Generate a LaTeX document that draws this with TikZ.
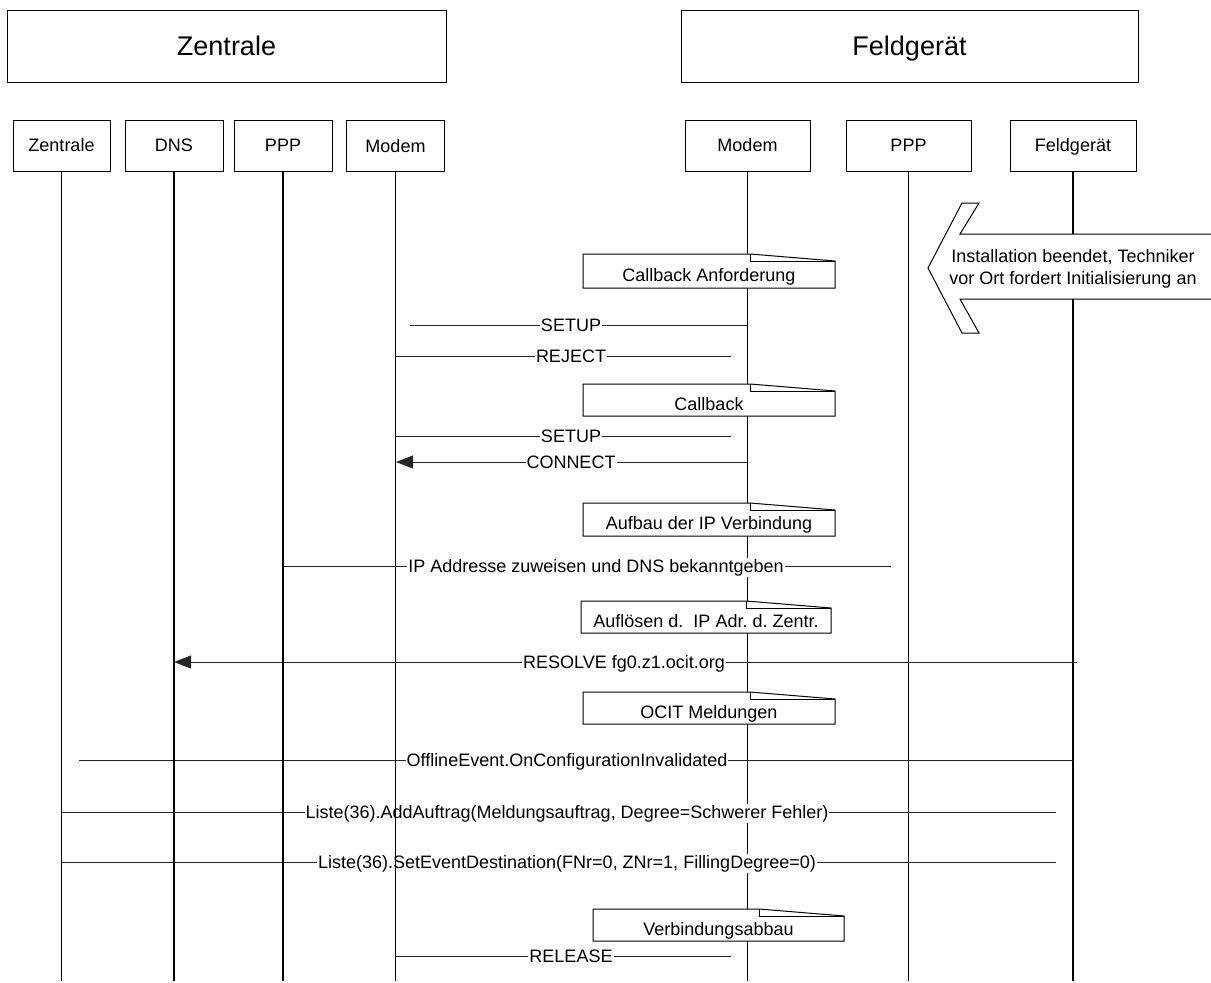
\documentclass[tikz,border=0pt]{standalone}
\usepackage{fontspec}
\setmainfont{Liberation Sans}
\usetikzlibrary{arrows.meta}
\frenchspacing
\tikzset{
  bigbox/.style={draw, line width=1pt, minimum height=72pt, inner sep=0pt, text height=19.3pt, text depth=0pt, font=\fontsize{27}{32}\selectfont},
  objbox/.style={draw, line width=1pt, minimum height=51pt, inner sep=0pt, text height=12.9pt, text depth=0pt, font=\fontsize{18}{22}\selectfont},
  life/.style={line width=1.5pt},
  msg/.style={line width=0.9pt, black!85},
  tip/.style={-{Triangle[length=17pt,width=13pt]}},
  lbl/.style={fill=white, inner sep=1pt, anchor=base, font=\fontsize{18}{22}\selectfont},
  notebody/.style={draw, line width=1pt, fill=white},
  notetext/.style={inner sep=0pt, font=\fontsize{18}{22}\selectfont}
}
\newcommand\mynote[6]{%
  \filldraw[notebody] (#2,#3) -- ({#4-85},#3) -- (#4,{#3+7}) -- (#4,#5) -- (#2,#5) -- cycle;
  \draw[line width=1pt] ({#4-85},#3) -- ({#4-85},{#3+7}) -- (#4,{#3+7});
  \node[notetext, anchor=base] (#1) at ({(#2+#4)/2},{(#3+#5)/2+10}) {#6};
}
\begin{document}
\begin{tikzpicture}[x=1pt,y=-1pt]
\useasboundingbox (0,0) rectangle (1211,983);
\coordinate (bottom) at (0,981);

% header boxes
\node[bigbox, minimum width=439pt] (hz) at (226.5,46) {Zentrale};
\node[bigbox, minimum width=457pt] (hf) at (909.5,46) {Feldgerät};

% object boxes
\node[objbox, minimum width=97pt] (zc) at (61.5,145.5) {Zentrale};
\node[objbox, minimum width=98pt] (dns) at (174,145.5) {DNS};
\node[objbox, minimum width=98pt] (pppl) at (283,145.5) {PPP};
\node[objbox, minimum width=98pt] (modl) at (395.5,146) {Modem};
\node[objbox, minimum width=125pt] (modr) at (747.5,145.5) {Modem};
\node[objbox, minimum width=125pt] (pppr) at (908.5,145.5) {PPP};
\node[objbox, minimum width=126pt] (feld) at (1073,145.5) {Feldgerät};

% right lifelines
\draw[life] (modr.south) -- (modr.south |- bottom);
\draw[life] (pppr.south) -- (pppr.south |- bottom);
\draw[life] (feld.south) -- (feld.south |- bottom);

% messages
\coordinate (s1a) at (410,325); \coordinate (s1b) at (747,325);
\draw[msg] (s1b) -- (s1a);
\node[lbl] (ls1) at (571,331.5) {SETUP};

\coordinate (rja) at (396,356); \coordinate (rjb) at (731,356);
\draw[msg] (rja) -- (rjb);
\node[lbl] (lrj) at (571,362.5) {REJECT};

\coordinate (s2a) at (396,436); \coordinate (s2b) at (731,436);
\draw[msg] (s2a) -- (s2b);
\node[lbl] (ls2) at (571,442.5) {SETUP};

\coordinate (cna) at (396,462); \coordinate (cnb) at (747,462);
\draw[msg, tip] (cnb) -- (cna);
\node[lbl] (lcn) at (571,468.5) {CONNECT};

\coordinate (ipa) at (283,566); \coordinate (ipb) at (891,566);
\draw[msg] (ipa) -- (ipb);
\node[lbl] (lip) at (596,572.5) {IP Addresse zuweisen und DNS bekanntgeben};

\coordinate (rsa) at (174,662); \coordinate (rsb) at (1077,662);
\draw[msg, tip] (rsb) -- (rsa);
\node[lbl] (lrs) at (624,668.5) {RESOLVE fg0.z1.ocit.org};

\coordinate (ofa) at (79,760); \coordinate (ofb) at (1073,760);
\draw[msg] (ofb) -- (ofa);
\node[lbl] (lof) at (567,766.5) {OfflineEvent.OnConfigurationInvalidated};

\coordinate (ada) at (61,812); \coordinate (adb) at (1056,812);
\draw[msg] (adb) -- (ada);
\node[lbl] (lad) at (567,818.5) {Liste(36).AddAuftrag(Meldungsauftrag, Degree=Schwerer Fehler)};

\coordinate (sea) at (61,862); \coordinate (seb) at (1056,862);
\draw[msg] (seb) -- (sea);
\node[lbl] (lse) at (567,868.5) {Liste(36).SetEventDestination(FNr=0, ZNr=1, FillingDegree=0)};

\coordinate (rla) at (396,956); \coordinate (rlb) at (731,956);
\draw[msg] (rla) -- (rlb);
\node[lbl] (lrl) at (571,962.5) {RELEASE};

% left lifelines
\draw[life] (zc.south) -- (zc.south |- bottom);
\draw[life] (dns.south) -- (dns.south |- bottom);
\draw[life] (pppl.south) -- (pppl.south |- bottom);
\draw[life] (modl.south) -- (modl.south |- bottom);

% notes
\mynote{n1}{583}{254}{835}{288}{Callback Anforderung}
\mynote{n2}{583}{384}{835}{416}{Callback}
\mynote{n3}{583}{503}{835}{536}{Aufbau der IP Verbindung}
\mynote{n4}{581}{601}{831}{633}{Auflösen d.\ \ IP Adr. d. Zentr.}
\mynote{n5}{583}{692}{835}{724}{OCIT Meldungen}
\mynote{n6}{593}{909}{844}{941}{Verbindungsabbau}

% big arrow
\filldraw[line width=1pt, fill=white] (1240,234) -- (960,234) -- (979,203) -- (962,203) -- (928,268) -- (962,333) -- (979,333) -- (960,299) -- (1240,299) -- cycle;
\node[align=center, inner sep=0pt, font=\fontsize{18}{22}\selectfont] (inst) at (1073,269) {Installation beendet, Techniker\\vor Ort fordert Initialisierung an};
\end{tikzpicture}
\end{document}
